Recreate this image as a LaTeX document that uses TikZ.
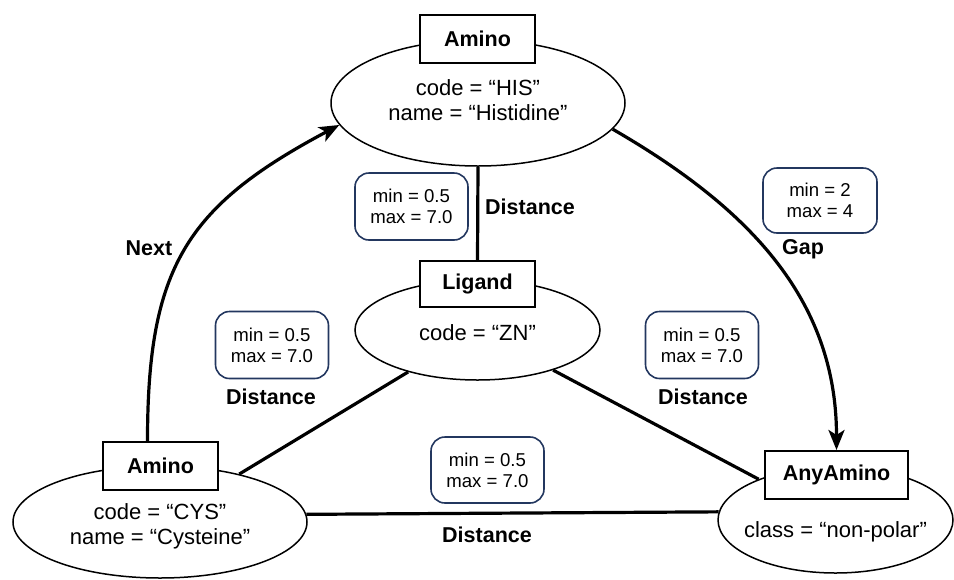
\documentclass[tikz,border=0pt]{standalone}
\usepackage{fontspec}
\setmainfont{Liberation Sans}
\usetikzlibrary{shapes.geometric,arrows.meta,backgrounds}
\definecolor{navy}{RGB}{35,55,95}
\begin{document}
\begin{tikzpicture}[x=1pt,y=-1pt,
  ell/.style={ellipse, draw, line width=1.5pt, inner sep=0pt},
  titlebox/.style={draw, fill=white, line width=2pt, minimum height=48pt, inner sep=0pt, font=\fontsize{21.5}{24}\selectfont\bfseries},
  attr/.style={align=center, inner sep=0pt, font=\fontsize{22}{24.5}\selectfont},
  cons/.style={draw=navy, rounded corners=14pt, line width=1.6pt, minimum width=113pt, minimum height=67pt, inner sep=0pt, align=center, font=\fontsize{18.6}{21}\selectfont},
  rel/.style={inner sep=0pt, font=\fontsize{21.5}{24}\selectfont\bfseries},
  conn/.style={line width=3.2pt},
  arr/.style={conn, -{Stealth[length=20pt,width=16pt,inset=5pt]}}
]
\useasboundingbox (0,0) rectangle (954,579);

% entities
\node[ell, minimum width=294pt, minimum height=126pt] (his) at (478,103) {};
\node[attr] (histxt) at (478,100) {code = “HIS”\\name = “Histidine”};
\node[titlebox, minimum width=115pt] (hisbox) at (477.5,39) {Amino};

\node[ell, minimum width=245pt, minimum height=100pt] (lig) at (477.5,330) {};
\node[attr] (ligtxt) at (477.5,333) {code = “ZN”};
\node[titlebox, minimum width=115pt, minimum height=46pt] (ligbox) at (477.5,284) {Ligand};

\node[ell, minimum width=294pt, minimum height=112pt] (cys) at (160,522) {};
\node[attr] (cystxt) at (160,526.5) {code = “CYS”\\name = “Cysteine”};
\node[titlebox, minimum width=115pt] (cysbox) at (160.5,466) {Amino};

\node[ell, minimum width=235pt, minimum height=106pt] (any) at (835.5,520) {};
\node[attr] (anytxt) at (835.5,532) {class = “non-polar”};
\node[titlebox, minimum width=143pt] (anybox) at (836.5,475) {AnyAmino};

% constraints
\node[cons] (c1) at (411.5,206.5) {min = 0.5\\max = 7.0};
\node[cons] (c2) at (272,345) {min = 0.5\\max = 7.0};
\node[cons] (c3) at (702,345) {min = 0.5\\max = 7.0};
\node[cons, minimum width=114pt, minimum height=65pt] (c4) at (820,200.5) {min = 2\\max = 4};
\node[cons, minimum height=66pt] (c5) at (487.5,470) {min = 0.5\\max = 7.0};

% relation labels
\node[rel] (lnext) at (149,248) {Next};
\node[rel] (ld1) at (530,207) {Distance};
\node[rel] (lgap) at (803,249) {Gap};
\node[rel] (ld2) at (271,397) {Distance};
\node[rel] (ld3) at (703,397) {Distance};
\node[rel] (ld4) at (487,535) {Distance};

% connectors
\begin{scope}[on background layer]
\draw[conn] (his.south) -- (ligbox.north);
\draw[conn] (lig) -- (cys);
\draw[conn] (lig) -- (any);
\draw[conn] (cys.3.5) -- (any.176.6);
\draw[arr] ([xshift=-13pt]cysbox.north) to[out=90,in=208,looseness=1.2] (his.189);
\draw[arr] (his.-11) to[out=-30,in=90] (anybox.north);
\end{scope}
\end{tikzpicture}
\end{document}
